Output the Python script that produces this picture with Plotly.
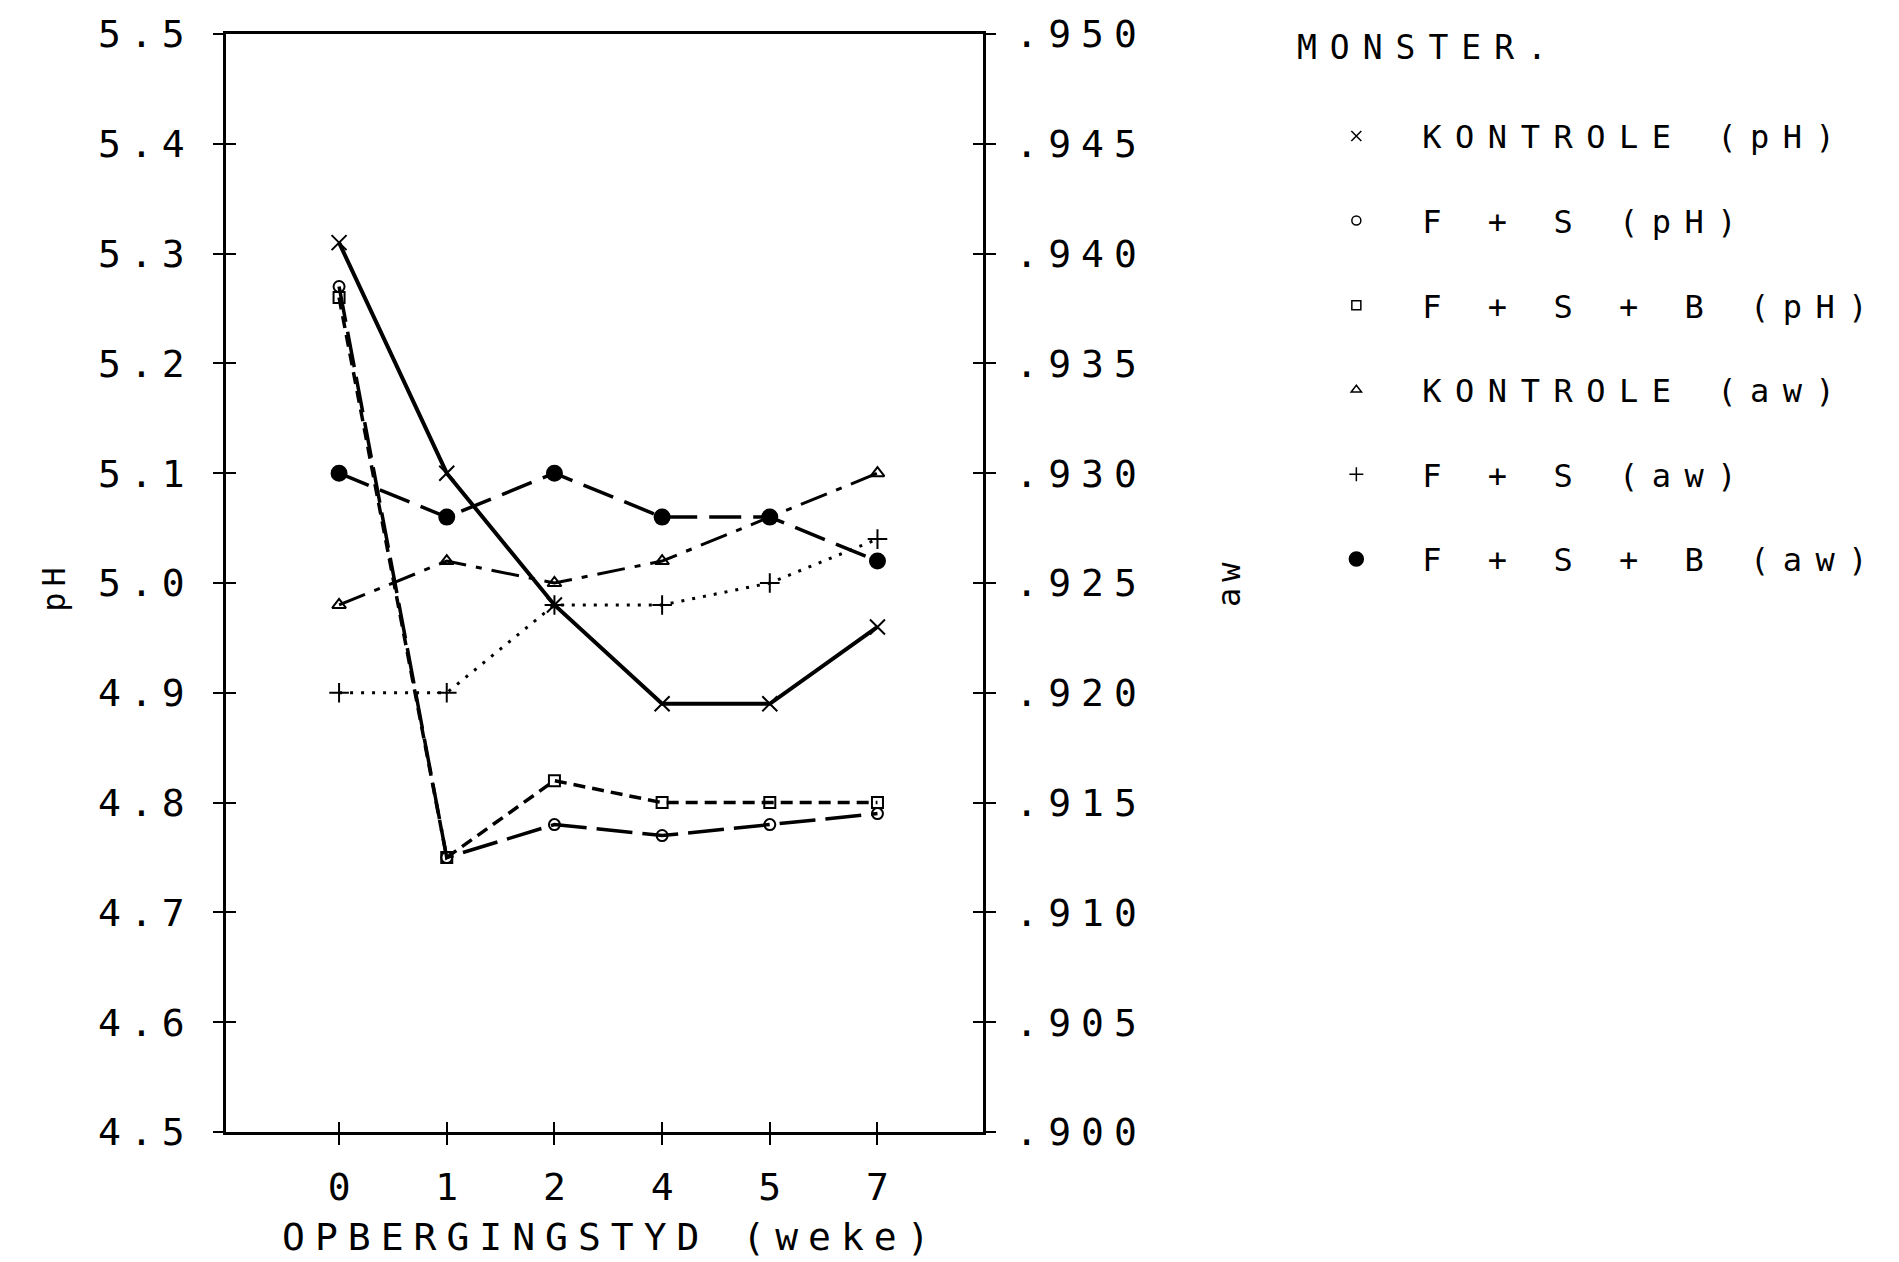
import plotly.graph_objects as go

# Storage time (weeks) and measured values per sample
weeks = ["0", "1", "2", "4", "5", "7"]

ph_kontrole = [5.31, 5.10, 4.98, 4.89, 4.89, 4.96]
ph_fs = [5.27, 4.75, 4.78, 4.77, 4.78, 4.79]
ph_fsb = [5.26, 4.75, 4.82, 4.80, 4.80, 4.80]

aw_kontrole = [0.924, 0.926, 0.925, 0.926, 0.928, 0.930]
aw_fs = [0.920, 0.920, 0.924, 0.924, 0.925, 0.927]
aw_fsb = [0.930, 0.928, 0.930, 0.928, 0.928, 0.926]

ph_ticks = [4.5, 4.6, 4.7, 4.8, 4.9, 5.0, 5.1, 5.2, 5.3, 5.4, 5.5]
aw_ticks = [0.900, 0.905, 0.910, 0.915, 0.920, 0.925, 0.930, 0.935, 0.940, 0.945, 0.950]

legend_names = [
    "KONTROLE (pH)",
    "F + S (pH)",
    "F + S + B (pH)",
    "KONTROLE (aw)",
    "F + S (aw)",
    "F + S + B (aw)",
]

FONT = "DejaVu Sans Mono, Liberation Mono, monospace"
INK = "black"


def spaced(text, px):
    return f'<span style="letter-spacing:{px}px">{text}</span>'


series = [
    # values, axis, dash, line width, marker symbol, marker size, legend marker size
    (ph_kontrole, "y", "solid", 4.0, "x-thin-open", 15, 10),
    (ph_fs, "y", "36px,10px", 3.5, "circle-open", 11, 9),
    (ph_fsb, "y", "12px,7px", 3.5, "square-open", 11, 9),
    (aw_kontrole, "y2", "28px,10px,6px,10px", 3.0, "triangle-up-open", 12, 9),
    (aw_fs, "y2", "3px,8px", 3.0, "cross-thin-open", 14, 10),
    (aw_fsb, "y2", "32px,12px", 3.5, "circle", 15, 14),
]

fig = go.Figure()

for (vals, yax, dash, lw, sym, msize, _), name in zip(series, legend_names):
    fig.add_trace(go.Scatter(
        x=weeks, y=vals, yaxis=yax, xaxis="x",
        mode="lines+markers",
        line=dict(color=INK, width=lw, dash=dash),
        marker=dict(symbol=sym, size=msize, color=INK,
                    line=dict(color=INK, width=2)),
        showlegend=False, name=name, hoverinfo="skip",
    ))

# Marker-only legend entries
for i, ((_, yax, _, _, sym, _, lsize), name) in enumerate(zip(series, legend_names)):
    fig.add_trace(go.Scatter(
        x=[None], y=[None], yaxis=yax, xaxis="x",
        mode="markers",
        marker=dict(symbol=sym, size=lsize, color=INK,
                    line=dict(color=INK, width=1.5)),
        name=spaced(name, 13.5), legendgroup=f"g{i}", showlegend=True,
    ))

# Empty traces that hold the overlay axes used for the inner half of each tick
fig.add_trace(go.Scatter(x=[], y=[], xaxis="x", yaxis="y3", showlegend=False))
fig.add_trace(go.Scatter(x=[], y=[], xaxis="x", yaxis="y4", showlegend=False))
fig.add_trace(go.Scatter(x=[], y=[], xaxis="x2", yaxis="y", showlegend=False))

x_range = [-1.05, 5.98]
ph_range = [4.5, 5.5]
aw_range = [0.900, 0.950]
tick_common = dict(ticklen=10, tickwidth=2, tickcolor=INK, showgrid=False, zeroline=False)

fig.update_layout(
    width=1899, height=1262,
    margin=dict(l=226, r=914, t=24, b=130),
    paper_bgcolor="white", plot_bgcolor="white",
    font=dict(family=FONT, color=INK, size=38),
    xaxis=dict(
        type="category", categoryorder="array", categoryarray=weeks,
        range=x_range, showline=True, linewidth=2.5, linecolor=INK, mirror=True,
        ticks="outside", tickfont=dict(size=38), ticklabelstandoff=10,
        **tick_common,
    ),
    xaxis2=dict(
        overlaying="x", anchor="y", side="bottom", range=x_range,
        tickvals=list(range(len(weeks))), ticks="inside",
        showticklabels=False, showline=False, **tick_common,
    ),
    yaxis=dict(
        range=ph_range, tickvals=ph_ticks,
        ticktext=[spaced(f"{v:.1f}", 9) for v in ph_ticks],
        showline=True, linewidth=2.5, linecolor=INK,
        ticks="outside", tickfont=dict(size=38), ticklabelstandoff=12,
        **tick_common,
    ),
    yaxis2=dict(
        overlaying="y", side="right", anchor="x", range=aw_range,
        tickvals=aw_ticks,
        ticktext=[spaced(f"{v:.3f}"[1:], 10) for v in aw_ticks],
        showline=True, linewidth=2.5, linecolor=INK,
        ticks="outside", tickfont=dict(size=38), ticklabelstandoff=12,
        **tick_common,
    ),
    yaxis3=dict(
        overlaying="y", side="left", anchor="x", range=ph_range,
        tickvals=ph_ticks, ticks="inside", showticklabels=False,
        showline=False, **tick_common,
    ),
    yaxis4=dict(
        overlaying="y", side="right", anchor="x", range=aw_range,
        tickvals=aw_ticks, ticks="inside", showticklabels=False,
        showline=False, **tick_common,
    ),
    legend=dict(
        x=1.406, y=0.932, xanchor="left", yanchor="top",
        font=dict(family=FONT, size=32, color=INK),
        itemwidth=122, tracegroupgap=40,
        bgcolor="rgba(0,0,0,0)", borderwidth=0,
        traceorder="grouped",
    ),
    annotations=[
        dict(text=spaced("pH", 6), x=-0.2266, y=0.497, xref="paper", yref="paper",
             textangle=-90, showarrow=False, font=dict(size=32),
             xanchor="center", yanchor="middle"),
        dict(text=spaced("aw", 6), x=1.325, y=0.501, xref="paper", yref="paper",
             textangle=-90, showarrow=False, font=dict(size=32),
             xanchor="center", yanchor="middle"),
        dict(text=spaced("MONSTER.", 13), x=1.412, y=0.988, xref="paper", yref="paper",
             showarrow=False, font=dict(size=33), xanchor="left", yanchor="middle"),
        dict(text=spaced("OPBERGINGSTYD (weke)", 10), x=0.5086, y=-0.0957,
             xref="paper", yref="paper", showarrow=False, font=dict(size=38),
             xanchor="center", yanchor="middle"),
    ],
)

fig.write_html("out.html")
